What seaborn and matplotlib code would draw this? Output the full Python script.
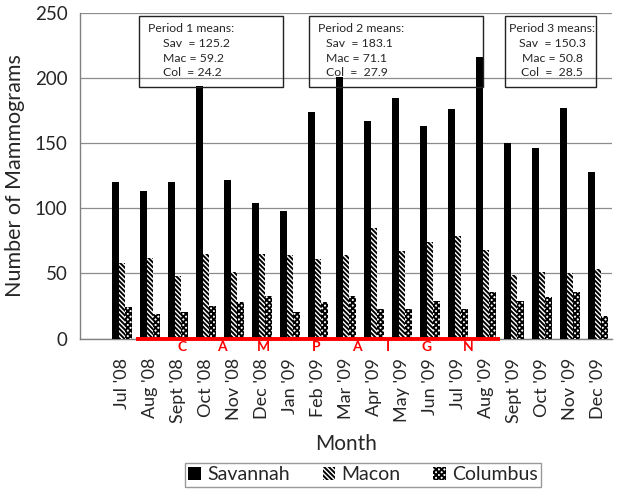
import pandas as pd
import numpy as np
import seaborn as sns
import matplotlib.pyplot as plt
from matplotlib.patches import Rectangle

months = ["Jul '08", "Aug '08", "Sept '08", "Oct '08", "Nov '08", "Dec '08",
          "Jan '09", "Feb '09", "Mar '09", "Apr '09", "May '09", "Jun '09",
          "Jul '09", "Aug '09", "Sept '09", "Oct '09", "Nov '09", "Dec '09"]
savannah = [120, 113, 120, 194, 122, 104, 98, 174, 201, 167, 185, 163, 176, 216, 150, 146, 177, 128]
macon = [58, 62, 48, 65, 51, 65, 64, 61, 64, 85, 67, 74, 79, 68, 49, 51, 50, 53]
columbus = [24, 19, 20, 25, 28, 33, 20, 28, 33, 23, 23, 29, 23, 36, 29, 32, 36, 17]
cities = ["Savannah", "Macon", "Columbus"]

period_titles = ["Period 1 means:", "Period 2 means:", "Period 3 means:"]
period_lines = [["Sav  = 125.2", "Mac = 59.2", "Col  = 24.2"],
                ["Sav  = 183.1", "Mac = 71.1", "Col  =  27.9"],
                ["Sav  = 150.3", "Mac = 50.8", "Col  =  28.5"]]
campaign_letters = list("CAMPAIGN")
campaign_pos = [2.13, 3.56, 5.04, 6.95, 8.38, 9.5, 10.86, 12.35]

df = pd.DataFrame({
    "Month": months * 3,
    "Count": savannah + macon + columbus,
    "City": [c for c in cities for _ in months],
})

sns.set_style("white")
plt.rcParams['font.family'] = ['Lato', 'DejaVu Sans']
plt.rcParams['hatch.linewidth'] = 1.4

W, H = 621, 497
fig = plt.figure(figsize=(W / 100, H / 100), dpi=100)
ax = fig.add_axes([80 / W, 1 - 338.5 / H, 532 / W, 325.5 / H])

sns.barplot(data=df, x="Month", y="Count", hue="City", hue_order=cities,
            palette=["black", "white", "white"], width=0.72, saturation=1,
            errorbar=None, legend=False, ax=ax, zorder=3)

hatches = [None, "\\\\\\\\\\\\\\", "xxxxxx"]
for cont, h in zip(ax.containers, hatches):
    for p in cont.patches:
        p.set_edgecolor("black")
        p.set_linewidth(0)
        if h:
            p.set_hatch(h)

ax.set_xlim(-1.5, 17.5)
ax.set_ylim(0, 250)
ax.set_yticks(range(0, 251, 50))
ax.yaxis.grid(True, color="#8c8c8c", lw=0.9, zorder=0)
ax.set_axisbelow(True)
for s in ["top", "right"]:
    ax.spines[s].set_visible(False)
for s in ["left", "bottom"]:
    ax.spines[s].set_color("#808080")
    ax.spines[s].set_linewidth(1)

ax.set_xticks(range(len(months)))
ax.set_xticklabels(months, rotation=90, fontsize=13)
ax.set_xticks(np.arange(-1.5, 18, 1), minor=True)
ax.tick_params(axis="x", which="major", length=0, pad=14)
ax.tick_params(axis="x", which="minor", length=5, color="#808080", width=1)
ax.tick_params(axis="y", length=6, color="#808080", width=1, labelsize=13.5, pad=3)
ax.set_xlabel("Month", fontsize=15, labelpad=8)
ax.set_ylabel("Number of Mammograms", fontsize=15.5, labelpad=7)

# campaign line and letters
ax.plot([0.5, 13.5], [0, 0], color="red", lw=2.8, clip_on=False, zorder=5,
        solid_capstyle="butt")
for letter, xpos in zip(campaign_letters, campaign_pos):
    ax.text(xpos, -6.3, letter, color="red", fontsize=10, fontweight="bold",
            ha="center", va="center")

# period mean boxes
boxes = [(139.3, 15.7, 283.3, 87.3), (309, 15.7, 483.3, 87.3), (505.3, 16, 595.7, 87.3)]
for i, (x0, y0, x1, y1) in enumerate(boxes):
    fig.patches.append(Rectangle((x0 / W, 1 - y1 / H), (x1 - x0) / W, (y1 - y0) / H,
                                 transform=fig.transFigure, fill=False,
                                 edgecolor="#222222", lw=1, zorder=1))
    ys = [28.3, 43.3, 58.3, 72.7]
    texts = [period_titles[i]] + period_lines[i]
    for j, (t, yy) in enumerate(zip(texts, ys)):
        if i == 0:
            xx, ha = (148.3 if j == 0 else 162.7), "left"
        elif i == 1:
            xx, ha = (317.7 if j == 0 else 326.5), "left"
        else:
            xx, ha = 552, "center"
        fig.text(xx / W, 1 - yy / H, t, fontsize=8.8, ha=ha, va="center")

fig.legend(ax.containers, cities, loc="center", bbox_to_anchor=(363 / W, 1 - 475 / H),
           ncol=3, fontsize=14, frameon=True, fancybox=False, edgecolor="#808080",
           handlelength=0.65, handleheight=0.65, handletextpad=0.3, columnspacing=1.7,
           borderpad=0.2)

fig.savefig("out.png", dpi=100)
